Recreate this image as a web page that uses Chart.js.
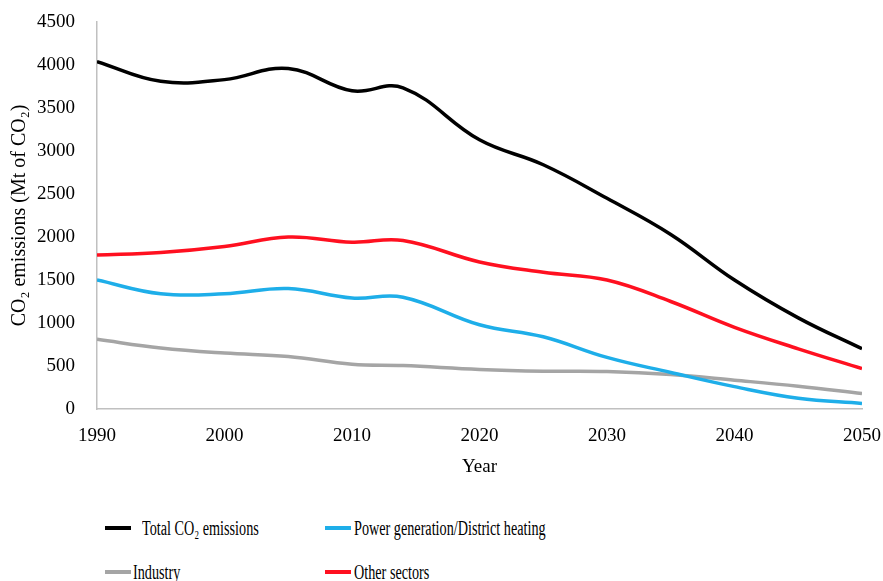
<!DOCTYPE html>
<html>
<head>
<meta charset="utf-8">
<script src="https://cdn.jsdelivr.net/npm/chart.js@4.4.0/dist/chart.umd.min.js"></script>
<style>
  html, body { margin: 0; padding: 0; background: #fff; }
  body { width: 883px; height: 581px; position: relative; overflow: hidden; font-family: "Liberation Serif", "DejaVu Serif", serif; }
  #wrap { position: absolute; left: 0; top: 0; width: 883px; height: 490px; }
  .lg { position: absolute; height: 24px; display: flex; align-items: center; font-size: 20px; color: #000; white-space: nowrap; }
  .lg span.sw { display: inline-block; width: 26px; height: 4px; flex: none; }
  .lg span.tx { display: inline-block; transform: scaleX(0.71); transform-origin: left center; }
</style>
</head>
<body>
<div id="wrap"><canvas id="myChart"></canvas></div>
<div id="legend"></div>
<script>
const years = [1990, 1995, 2000, 2005, 2010, 2014, 2020, 2025, 2030, 2035, 2040, 2045, 2050];
const totalCO2 = [4040, 3810, 3830, 3960, 3700, 3735, 3130, 2840, 2450, 2030, 1500, 1060, 700];
const powerHeat = [1500, 1340, 1340, 1400, 1290, 1300, 980, 840, 600, 425, 260, 125, 65];
const industry = [810, 710, 650, 610, 520, 505, 460, 440, 435, 400, 335, 265, 180];
const otherSectors = [1790, 1820, 1890, 2000, 1940, 1960, 1710, 1590, 1500, 1250, 950, 700, 470];
const yTicks = [0, 500, 1000, 1500, 2000, 2500, 3000, 3500, 4000, 4500];
const xTicks = [1990, 2000, 2010, 2020, 2030, 2040, 2050];

const toPoints = arr => years.map((y, i) => ({ x: y, y: arr[i] }));

const serif = '"Liberation Serif", "DejaVu Serif", serif';

const mkSet = (label, arr, color) => ({
  label: label,
  data: toPoints(arr),
  borderColor: color,
  backgroundColor: color,
  borderWidth: 3.5,
  tension: 0.4,
  pointRadius: 0,
  fill: false
});

const ctx = document.getElementById('myChart').getContext('2d');
const chart = new Chart(ctx, {
  type: 'line',
  data: {
    datasets: [
      mkSet('Total CO\u2082 emissions', totalCO2, '#000000'),
      mkSet('Power generation/District heating', powerHeat, '#1eaee9'),
      mkSet('Industry', industry, '#a5a5a5'),
      mkSet('Other sectors', otherSectors, '#ff1020')
    ]
  },
  options: {
    responsive: true,
    maintainAspectRatio: false,
    animation: false,
    layout: { padding: { top: 22, right: 21, bottom: 12, left: 4 } },
    plugins: { legend: { display: false }, tooltip: { enabled: false } },
    scales: {
      x: {
        type: 'linear',
        min: 1990,
        max: 2050,
        afterBuildTicks: axis => { axis.ticks = xTicks.map(v => ({ value: v })); },
        afterFit: axis => { axis.height = 69; axis.paddingLeft = 0; axis.paddingRight = 0; },
        grid: { display: false, drawTicks: false },
        border: { display: true, color: '#c0c0c0', width: 1.5 },
        ticks: { color: '#000', font: { family: serif, size: 19 }, padding: 16, maxRotation: 0, callback: v => String(v) },
        title: { display: true, text: 'Year', color: '#000', font: { family: serif, size: 19 }, padding: { top: 0, bottom: 0 } }
      },
      y: {
        min: 0,
        max: 4500,
        afterBuildTicks: axis => { axis.ticks = yTicks.map(v => ({ value: v })); },
        afterFit: axis => { axis.width = 93; axis.paddingTop = 0; axis.paddingBottom = 0; },
        grid: { display: false, drawTicks: false },
        border: { display: true, color: '#c0c0c0', width: 1.5 },
        ticks: { color: '#000', font: { family: serif, size: 19 }, padding: 22, callback: v => String(v) },
        title: { display: true, text: 'CO\u2082 emissions (Mt of CO\u2082)', color: '#000', font: { family: serif, size: 20 }, padding: { top: 4, bottom: 0 } }
      }
    }
  }
});

// legend laid out in two rows like the original
const legendPos = [
  { left: 105, top: 516, gap: 9 },
  { left: 325, top: 516, gap: 1 },
  { left: 105, top: 560, gap: 0 },
  { left: 325, top: 560, gap: 1 }
];
const legend = document.getElementById('legend');
chart.data.datasets.forEach((ds, i) => {
  const p = legendPos[i];
  const item = document.createElement('div');
  item.className = 'lg';
  item.style.left = p.left + 'px';
  item.style.top = p.top + 'px';
  item.innerHTML = '<span class="sw" style="background:' + ds.borderColor + ';margin-right:' + (p.gap + 2) + 'px"></span><span class="tx">' + ds.label + '</span>';
  legend.appendChild(item);
});
</script>
</body>
</html>
